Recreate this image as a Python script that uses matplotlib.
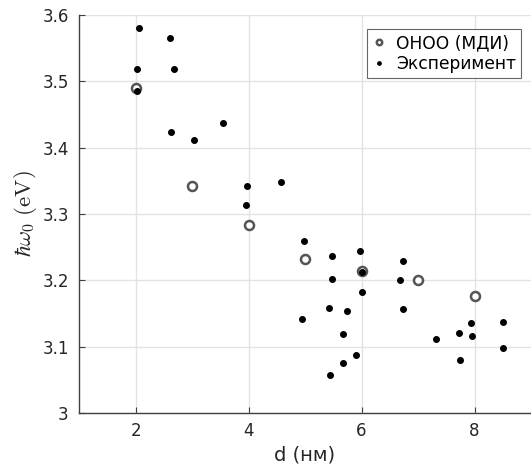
import numpy as np
import matplotlib.pyplot as plt

plt.rcParams['mathtext.fontset'] = 'cm'

# ОНОО (МДИ)
d_calc = [2, 3, 4, 5, 6, 7, 8]
e_calc = [3.490, 3.342, 3.284, 3.232, 3.214, 3.201, 3.177]

# Эксперимент
d_exp = [2.06, 2.61, 2.03, 2.68, 2.03, 3.55, 2.63, 3.03, 3.98, 4.58, 3.95,
         4.98, 5.47, 5.98, 5.47, 6.00, 6.73, 6.68, 6.00, 5.42, 5.75, 6.73,
         4.95, 7.93, 8.50, 5.68, 7.72, 7.95, 7.32, 8.50, 5.90, 7.75, 5.67, 5.45]
e_exp = [3.581, 3.566, 3.518, 3.518, 3.485, 3.437, 3.424, 3.412, 3.343, 3.348, 3.313,
         3.260, 3.237, 3.244, 3.202, 3.212, 3.230, 3.200, 3.182, 3.159, 3.154, 3.157,
         3.142, 3.136, 3.138, 3.119, 3.121, 3.116, 3.111, 3.098, 3.088, 3.080, 3.076, 3.058]

xticks = [2, 4, 6, 8]
yticks = [3, 3.1, 3.2, 3.3, 3.4, 3.5, 3.6]
yticklabels = ['3', '3.1', '3.2', '3.3', '3.4', '3.5', '3.6']

fig = plt.figure(figsize=(5.31, 4.71), dpi=100)
ax = fig.add_axes([0.149, 0.123, 0.851, 0.845])

ax.plot(d_calc, e_calc, 'o', mfc='white', mec='#555555', mew=1.8, ms=6.5,
        label='ОНОО (МДИ)', zorder=3)
ax.plot(d_exp, e_exp, 'o', color='black', ms=4, label='Эксперимент', zorder=4)

ax.set_xlim(1, 9)
ax.set_ylim(3, 3.6)
ax.set_xticks(xticks)
ax.set_yticks(yticks)
ax.set_yticklabels(yticklabels)
ax.grid(True, color='#e3e3e3', lw=1)
ax.set_axisbelow(True)

for s in ['top', 'right']:
    ax.spines[s].set_visible(False)
for s in ['left', 'bottom']:
    ax.spines[s].set_color('#404040')
    ax.spines[s].set_linewidth(1.0)
ax.tick_params(direction='in', length=4, colors='#404040', labelcolor='#262626',
               labelsize=12)
ax.tick_params(axis='y', pad=7.5)
ax.tick_params(axis='x', pad=6.5)

ax.set_xlabel('d (нм)', fontsize=14, color='#262626', labelpad=4)
ax.set_ylabel(r'$\hbar\omega_0\ \mathrm{(eV)}$', fontsize=16.5, color='#262626',
              labelpad=2)

leg = ax.legend(loc='upper right', bbox_to_anchor=(0.978, 0.965), fontsize=12.3,
                frameon=True, fancybox=False, edgecolor='#404040',
                handlelength=0.8, handletextpad=0.6, borderpad=0.3,
                labelspacing=0.15, borderaxespad=0, markerscale=0.6)
leg.get_frame().set_linewidth(0.8)

fig.savefig('out.png', dpi=100)
